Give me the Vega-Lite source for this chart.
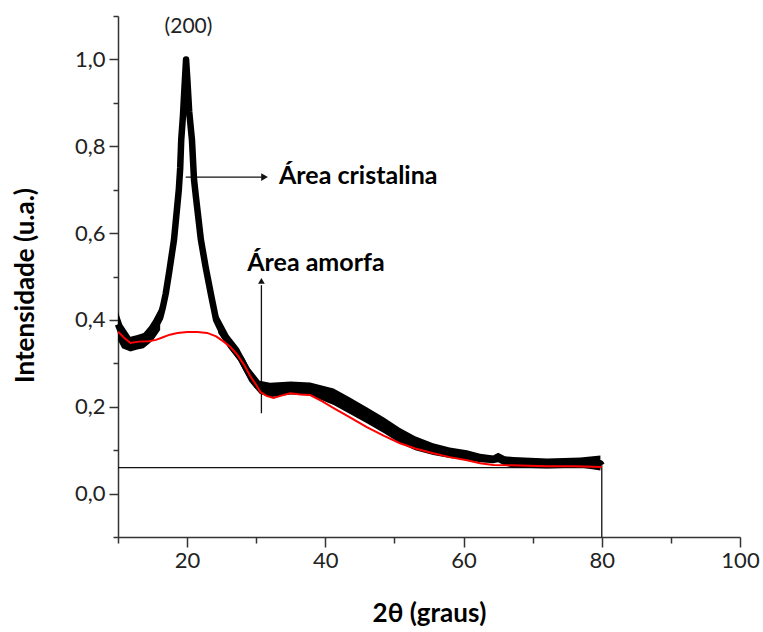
{
  "$schema": "https://vega.github.io/schema/vega-lite/v6.json",
  "width": 622,
  "height": 521,
  "autosize": {"type": "none"},
  "padding": {"left": 118, "top": 16, "right": 23, "bottom": 95},
  "background": "white",
  "config": {"view": {"stroke": null}, "font": "Lato"},
  "datasets": {
    "xrd": [
      {"x": 10.0, "y": 0.39}, {"x": 10.3, "y": 0.378}, {"x": 10.7, "y": 0.36}, {"x": 11.2, "y": 0.348},
      {"x": 11.8, "y": 0.344}, {"x": 12.5, "y": 0.346}, {"x": 13.2, "y": 0.35}, {"x": 13.7, "y": 0.352},
      {"x": 14.4, "y": 0.362}, {"x": 15.1, "y": 0.376}, {"x": 15.6, "y": 0.39}, {"x": 16.1, "y": 0.405},
      {"x": 16.5, "y": 0.43}, {"x": 16.9, "y": 0.46}, {"x": 17.4, "y": 0.51}, {"x": 18.1, "y": 0.584},
      {"x": 18.5, "y": 0.65}, {"x": 18.8, "y": 0.70}, {"x": 19.0, "y": 0.75}, {"x": 19.15, "y": 0.815},
      {"x": 19.4, "y": 0.87}, {"x": 19.6, "y": 0.93}, {"x": 19.85, "y": 1.0}, {"x": 20.05, "y": 0.95},
      {"x": 20.3, "y": 0.88}, {"x": 20.7, "y": 0.815}, {"x": 21.0, "y": 0.723}, {"x": 21.3, "y": 0.68},
      {"x": 22.0, "y": 0.584}, {"x": 22.7, "y": 0.52}, {"x": 23.5, "y": 0.455}, {"x": 24.2, "y": 0.40},
      {"x": 25.1, "y": 0.37}, {"x": 26.0, "y": 0.35}, {"x": 27.1, "y": 0.326}, {"x": 27.8, "y": 0.31},
      {"x": 28.4, "y": 0.292}, {"x": 29.5, "y": 0.262}, {"x": 30.2, "y": 0.248}, {"x": 31.0, "y": 0.24},
      {"x": 32.0, "y": 0.238}, {"x": 33.0, "y": 0.241}, {"x": 34.5, "y": 0.243}, {"x": 36.4, "y": 0.242},
      {"x": 37.8, "y": 0.241}, {"x": 39.5, "y": 0.233}, {"x": 41.2, "y": 0.223}, {"x": 43.5, "y": 0.203},
      {"x": 46.0, "y": 0.18}, {"x": 48.5, "y": 0.157}, {"x": 50.8, "y": 0.134}, {"x": 53.0, "y": 0.116},
      {"x": 55.6, "y": 0.102}, {"x": 58.0, "y": 0.094}, {"x": 60.5, "y": 0.088}, {"x": 62.4, "y": 0.082},
      {"x": 64.3, "y": 0.079}, {"x": 64.9, "y": 0.084}, {"x": 65.5, "y": 0.078}, {"x": 67.2, "y": 0.072},
      {"x": 70.0, "y": 0.07}, {"x": 72.1, "y": 0.07}, {"x": 74.5, "y": 0.071}, {"x": 76.9, "y": 0.072},
      {"x": 78.5, "y": 0.071}, {"x": 79.8, "y": 0.07}, {"x": 80.0, "y": 0.065}
    ],
    "band": [
      {"part": "a", "x": 10.0, "y": 0.418, "lo": 0.353},
      {"part": "a", "x": 10.6, "y": 0.39, "lo": 0.335},
      {"part": "a", "x": 11.8, "y": 0.361, "lo": 0.327},
      {"part": "a", "x": 12.8, "y": 0.365, "lo": 0.332},
      {"part": "a", "x": 13.7, "y": 0.37, "lo": 0.335},
      {"part": "a", "x": 14.5, "y": 0.385, "lo": 0.345},
      {"part": "a", "x": 15.1, "y": 0.40, "lo": 0.354},
      {"part": "a", "x": 16.1, "y": 0.43, "lo": 0.377},
      {"part": "b", "x": 24.5, "y": 0.41, "lo": 0.37},
      {"part": "b", "x": 26.0, "y": 0.365, "lo": 0.335},
      {"part": "b", "x": 27.5, "y": 0.335, "lo": 0.305},
      {"part": "b", "x": 29.0, "y": 0.29, "lo": 0.258},
      {"part": "b", "x": 30.5, "y": 0.26, "lo": 0.23},
      {"part": "b", "x": 32.0, "y": 0.255, "lo": 0.222},
      {"part": "b", "x": 35.0, "y": 0.258, "lo": 0.228},
      {"part": "b", "x": 37.8, "y": 0.256, "lo": 0.226},
      {"part": "b", "x": 41.2, "y": 0.242, "lo": 0.204},
      {"part": "b", "x": 43.5, "y": 0.222, "lo": 0.184},
      {"part": "b", "x": 46.0, "y": 0.199, "lo": 0.162},
      {"part": "b", "x": 48.5, "y": 0.175, "lo": 0.139},
      {"part": "b", "x": 50.8, "y": 0.151, "lo": 0.116},
      {"part": "b", "x": 53.0, "y": 0.132, "lo": 0.1},
      {"part": "b", "x": 55.6, "y": 0.116, "lo": 0.089},
      {"part": "b", "x": 58.0, "y": 0.106, "lo": 0.082},
      {"part": "b", "x": 60.5, "y": 0.1, "lo": 0.077},
      {"part": "b", "x": 62.4, "y": 0.092, "lo": 0.072},
      {"part": "b", "x": 64.3, "y": 0.088, "lo": 0.07},
      {"part": "b", "x": 65.0, "y": 0.094, "lo": 0.072},
      {"part": "b", "x": 66.0, "y": 0.086, "lo": 0.064},
      {"part": "b", "x": 67.2, "y": 0.084, "lo": 0.06},
      {"part": "b", "x": 72.1, "y": 0.081, "lo": 0.058},
      {"part": "b", "x": 76.9, "y": 0.083, "lo": 0.06},
      {"part": "b", "x": 79.8, "y": 0.088, "lo": 0.053}
    ],
    "amorfo": [
      {"x": 10.0, "y": 0.373}, {"x": 10.8, "y": 0.36}, {"x": 11.8, "y": 0.347}, {"x": 13.0, "y": 0.35},
      {"x": 14.5, "y": 0.351}, {"x": 15.5, "y": 0.354}, {"x": 16.5, "y": 0.36}, {"x": 17.5, "y": 0.366},
      {"x": 18.6, "y": 0.37}, {"x": 20.0, "y": 0.372}, {"x": 21.5, "y": 0.372}, {"x": 22.9, "y": 0.37},
      {"x": 24.2, "y": 0.362}, {"x": 25.3, "y": 0.35}, {"x": 26.3, "y": 0.337}, {"x": 27.3, "y": 0.319},
      {"x": 28.3, "y": 0.295}, {"x": 29.2, "y": 0.269}, {"x": 30.0, "y": 0.25}, {"x": 30.6, "y": 0.234},
      {"x": 31.5, "y": 0.225}, {"x": 32.5, "y": 0.22}, {"x": 33.5, "y": 0.225}, {"x": 34.9, "y": 0.231},
      {"x": 36.4, "y": 0.228}, {"x": 37.8, "y": 0.227}, {"x": 39.5, "y": 0.213}, {"x": 41.2, "y": 0.197},
      {"x": 43.5, "y": 0.176}, {"x": 46.0, "y": 0.153}, {"x": 48.5, "y": 0.133}, {"x": 50.8, "y": 0.116},
      {"x": 53.0, "y": 0.104}, {"x": 55.6, "y": 0.093}, {"x": 58.0, "y": 0.084}, {"x": 60.5, "y": 0.077},
      {"x": 62.4, "y": 0.07}, {"x": 64.3, "y": 0.066}, {"x": 67.0, "y": 0.065}, {"x": 72.0, "y": 0.063},
      {"x": 76.0, "y": 0.063}, {"x": 80.0, "y": 0.061}
    ],
    "hrules": [
      {"x": 10, "x2": 80, "y": 0.06},
      {"x": 19.8, "x2": 30.8, "y": 0.729}
    ],
    "vrules": [
      {"x": 80, "y": 0.065, "y2": -0.1},
      {"x": 30.75, "y": 0.185, "y2": 0.48}
    ],
    "headsRight": [{"x": 31.2, "y": 0.729}],
    "headsUp": [{"x": 30.75, "y": 0.49}],
    "boldLabels": [
      {"x": 33.3, "y": 0.731, "label": "Área cristalina"},
      {"x": 28.7, "y": 0.531, "label": "Área amorfa"}
    ],
    "plainLabels": [
      {"x": 20.2, "y": 1.074, "label": "(200)"}
    ]
  },
  "encoding": {
    "x": {
      "field": "x", "type": "quantitative",
      "scale": {"domain": [10, 100], "nice": false, "zero": false},
      "axis": {
        "title": "2θ (graus)",
        "values": [10, 20, 30, 40, 50, 60, 70, 80, 90, 100],
        "labelExpr": "datum.value % 20 == 0 ? datum.label : ''",
        "labelFlush": false,
        "grid": false,
        "domainColor": "#333", "domainWidth": 1.5,
        "tickColor": "#333", "tickWidth": 1.5,
        "tickSize": {"condition": {"test": "datum.value % 20 == 0", "value": 10}, "value": 6},
        "labelFontSize": 22, "labelColor": "#222", "labelPadding": 3, "labelFont": "Lato",
        "titleFontSize": 26, "titleFontWeight": "bold", "titleColor": "#000", "titleFont": "Lato",
        "titleBaseline": "middle", "titleY": 76
      }
    },
    "y": {
      "field": "y", "type": "quantitative",
      "scale": {"domain": [-0.1, 1.1], "nice": false, "zero": false},
      "axis": {
        "title": "Intensidade (u.a.)",
        "values": [-0.1, 0, 0.1, 0.2, 0.3, 0.4, 0.5, 0.6, 0.7, 0.8, 0.9, 1.0, 1.1],
        "labelExpr": "round(datum.value*10) % 2 == 0 ? replace(format(datum.value, '.1f'), '.', ',') : ''",
        "labelFlush": false,
        "grid": false,
        "domainColor": "#333", "domainWidth": 1.5,
        "tickColor": "#333", "tickWidth": 1.5,
        "tickSize": {"condition": {"test": "round(datum.value*10) % 2 == 0", "value": 9}, "value": 5},
        "labelFontSize": 22, "labelColor": "#222", "labelPadding": 4, "labelFont": "Lato",
        "titleFontSize": 26, "titleFontWeight": "bold", "titleColor": "#000", "titleFont": "Lato",
        "titleBaseline": "middle", "titleX": -93, "titleY": 269, "titleAngle": -90
      }
    }
  },
  "layer": [
    {"data": {"name": "hrules"}, "mark": {"type": "rule", "color": "#111", "strokeWidth": 1.3}, "encoding": {"x2": {"field": "x2"}}},
    {"data": {"name": "vrules"}, "mark": {"type": "rule", "color": "#111", "strokeWidth": 1.3}, "encoding": {"y2": {"field": "y2"}}},
    {"data": {"name": "band"}, "mark": {"type": "area", "color": "#000", "opacity": 1}, "encoding": {"y2": {"field": "lo"}, "detail": {"field": "part"}}},
    {"data": {"name": "xrd"}, "mark": {"type": "line", "color": "#000", "strokeWidth": 6.5, "strokeJoin": "round"}},
    {"data": {"name": "amorfo"}, "mark": {"type": "line", "color": "#ff0000", "strokeWidth": 2}},
    {"data": {"name": "headsRight"}, "mark": {"type": "point", "shape": "triangle-right", "filled": true, "color": "#111", "size": 60, "opacity": 1}},
    {"data": {"name": "headsUp"}, "mark": {"type": "point", "shape": "triangle-up", "filled": true, "color": "#111", "size": 45, "opacity": 1}},
    {"data": {"name": "boldLabels"}, "mark": {"type": "text", "align": "left", "baseline": "middle", "font": "Lato", "fontSize": 25, "fontWeight": "bold", "color": "#000"}, "encoding": {"text": {"field": "label"}}},
    {"data": {"name": "plainLabels"}, "mark": {"type": "text", "align": "center", "baseline": "middle", "font": "Lato", "fontSize": 21, "color": "#222"}, "encoding": {"text": {"field": "label"}}}
  ]
}
